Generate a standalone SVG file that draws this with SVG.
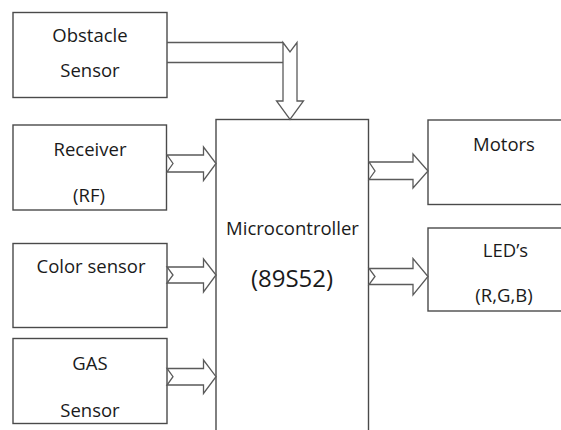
<svg xmlns="http://www.w3.org/2000/svg" width="561" height="430" viewBox="0 0 561 430">
<style>
.box{fill:#fff;stroke:#4a4a4a;stroke-width:1.4}
.arr{fill:#fff;stroke:#5a5a5a;stroke-width:1.3;stroke-linejoin:miter}
.ln{fill:none;stroke:#5a5a5a;stroke-width:1.3}
text{font-family:"Open Sans","Liberation Sans",sans-serif;font-size:18.5px;fill:#1a1a1a;text-anchor:middle}
.big{font-size:24px}
</style>
<rect width="561" height="430" fill="#fff"/>
<g id="obstacle">
<rect class="box" x="13" y="12.5" width="154" height="85"/>
<text x="90" y="42">Obstacle</text>
<text x="90" y="77">Sensor</text>
</g>
<g id="receiver">
<rect class="box" x="13" y="125" width="153.5" height="85"/>
<text x="90" y="156">Receiver</text>
<text x="89" y="202">(RF)</text>
</g>
<g id="color">
<rect class="box" x="13" y="243.5" width="154" height="84"/>
<text x="91" y="273">Color sensor</text>
</g>
<g id="gas">
<rect class="box" x="13" y="338.5" width="154" height="85"/>
<text x="90" y="370">GAS</text>
<text x="90" y="417">Sensor</text>
</g>
<g id="micro">
<rect class="box" x="216" y="119.5" width="152.5" height="330"/>
<text x="292.5" y="235">Microcontroller</text>
<text class="big" x="292" y="287">(89S52)</text>
</g>
<g id="motors">
<rect class="box" x="428" y="120" width="145" height="84.5"/>
<text x="504" y="150.5">Motors</text>
</g>
<g id="leds">
<rect class="box" x="428" y="228" width="145" height="83"/>
<text x="505.5" y="257">LED’s</text>
<text x="504" y="302">(R,G,B)</text>
</g>
<g id="connectors">
<path class="ln" d="M167 42.5H283M167 62.5H283"/>
<path class="arr" d="M283 42.5L290 52L297 42.5V101H303.5L290 119.5L276.5 101H283Z"/>
<path class="arr" d="M167 155H203.5V147L216 163.5L203.5 180.5V172H167L173 163.5Z"/>
<path class="arr" d="M167 267H203.5V259L216 275L203.5 292V283H167L173 275Z"/>
<path class="arr" d="M167 368.5H203.5V360L216 376.7L203.5 393.5V385H167L173 376.7Z"/>
<path class="arr" d="M369 162H413V154L428 171L413 188V179.5H369L375 171Z"/>
<path class="arr" d="M369 268.5H413V258.5L428 276.5L413 295V284.5H369L375 276.5Z"/>
</g>
</svg>
